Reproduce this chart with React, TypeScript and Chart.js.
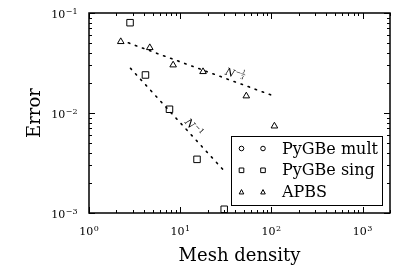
import React, { useEffect, useRef } from 'react';
import { Chart, registerables } from 'chart.js';

Chart.register(...registerables);

const FONT = '"DejaVu Serif", "Liberation Serif", serif';

// PyGBe mult (no points inside the visible range)
const meshMult: number[] = [];
const errorMult: number[] = [];
// PyGBe sing
const meshSing = [2.82, 4.16, 7.63, 15.3, 30.4];
const errorSing = [0.08, 0.024, 0.0109, 0.00344, 0.00109];
// APBS
const meshApbs = [2.23, 4.64, 8.37, 17.8, 53.1, 108];
const errorApbs = [0.0517, 0.045, 0.0302, 0.0259, 0.0148, 0.0074];
// reference slopes (end points)
const fitThirdX = [2.7, 100];
const fitThirdY = [0.0503, 0.0151];
const fitOneX = [2.85, 30];
const fitOneY = [0.028, 0.00267];
// annotation anchors
const noteThird = { x: 40, y: 0.0246 };
const noteOne = { x: 14.2, y: 0.0072 };

const xTicks = [1, 10, 100, 1000];
const xExps = ['0', '1', '2', '3'];
const yTicks = [0.001, 0.01, 0.1];
const yExps = ['−3', '−2', '−1'];
const legendLabels = ['PyGBe mult', 'PyGBe sing', 'APBS'];
const legendShapes = ['circle', 'rect', 'triangle'];

const xy = (xs: number[], ys: number[]) => xs.map((x, i) => ({ x, y: ys[i] }));

function drawMarker(ctx: CanvasRenderingContext2D, shape: string, x: number, y: number, r: number) {
  ctx.beginPath();
  if (shape === 'circle') {
    ctx.arc(x, y, r, 0, Math.PI * 2);
  } else if (shape === 'rect') {
    ctx.rect(x - r, y - r, 2 * r, 2 * r);
  } else {
    ctx.moveTo(x, y - r * 1.1);
    ctx.lineTo(x + r, y + r * 0.8);
    ctx.lineTo(x - r, y + r * 0.8);
    ctx.closePath();
  }
  ctx.stroke();
}

function drawPow(
  ctx: CanvasRenderingContext2D,
  exp: string,
  anchorX: number,
  align: 'center' | 'right',
  baseY: number,
  supY: number
) {
  ctx.font = `11px ${FONT}`;
  const wb = ctx.measureText('10').width;
  ctx.font = `8px ${FONT}`;
  const we = ctx.measureText(exp).width;
  const total = wb + 0.5 + we;
  const left = align === 'center' ? anchorX - total / 2 : anchorX - total;
  ctx.textAlign = 'left';
  ctx.textBaseline = 'alphabetic';
  ctx.font = `11px ${FONT}`;
  ctx.fillText('10', left, baseY);
  ctx.font = `8px ${FONT}`;
  ctx.fillText(exp, left + wb + 0.5, supY);
}

const framePlugin = {
  id: 'frame',
  afterDatasetsDraw(chart: any) {
    const { ctx, chartArea: a, scales } = chart;
    const xs = scales.x;
    const ys = scales.y;
    ctx.save();
    ctx.strokeStyle = '#000';
    ctx.fillStyle = '#000';
    ctx.lineWidth = 1;
    const major = 6;
    const minor = 3;
    // x ticks
    for (let d = 0; d <= 3; d++) {
      for (let m = 1; m <= 9; m++) {
        const v = m * Math.pow(10, d);
        if (v < xs.min || v > xs.max) continue;
        const px = Math.round(xs.getPixelForValue(v)) + 0.5;
        const len = m === 1 ? major : minor;
        ctx.beginPath();
        ctx.moveTo(px, a.bottom);
        ctx.lineTo(px, a.bottom - len);
        ctx.moveTo(px, a.top);
        ctx.lineTo(px, a.top + len);
        ctx.stroke();
      }
    }
    // y ticks
    for (let d = -3; d <= -1; d++) {
      for (let m = 1; m <= 9; m++) {
        const v = m * Math.pow(10, d);
        if (v < ys.min * 0.999 || v > ys.max * 1.001) continue;
        const py = Math.round(ys.getPixelForValue(v)) + 0.5;
        const len = m === 1 ? major : minor;
        ctx.beginPath();
        ctx.moveTo(a.left, py);
        ctx.lineTo(a.left + len, py);
        ctx.moveTo(a.right, py);
        ctx.lineTo(a.right - len, py);
        ctx.stroke();
      }
    }
    ctx.lineWidth = 1.5;
    ctx.strokeRect(a.left, a.top, a.right - a.left, a.bottom - a.top);

    // tick labels
    xTicks.forEach((v, i) => {
      const px = xs.getPixelForValue(v);
      drawPow(ctx, xExps[i], px, 'center', a.bottom + 22, a.bottom + 18);
    });
    yTicks.forEach((v, i) => {
      const py = ys.getPixelForValue(v);
      drawPow(ctx, yExps[i], a.left - 11.5, 'right', py + 5, py + 0.5);
    });

    // slope annotations
    const note = (pos: { x: number; y: number }, fx: number[], fy: number[], frac: boolean) => {
      const x0 = xs.getPixelForValue(fx[0]);
      const y0 = ys.getPixelForValue(fy[0]);
      const x1 = xs.getPixelForValue(fx[1]);
      const y1 = ys.getPixelForValue(fy[1]);
      const ang = Math.atan2(y1 - y0, x1 - x0);
      const px = xs.getPixelForValue(pos.x);
      const py = ys.getPixelForValue(pos.y);
      ctx.save();
      ctx.translate(px, py);
      ctx.rotate(ang);
      ctx.textBaseline = 'alphabetic';
      ctx.textAlign = 'left';
      ctx.font = `italic 10.5px ${FONT}`;
      const wN = ctx.measureText('N').width;
      ctx.font = `7px ${FONT}`;
      const wM = ctx.measureText('−').width;
      let wRest = 0;
      if (frac) {
        ctx.font = `5px ${FONT}`;
        wRest = ctx.measureText('3').width + 1;
      } else {
        ctx.font = `7px ${FONT}`;
        wRest = ctx.measureText('1').width;
      }
      const total = wN + 0.5 + wM + wRest;
      const left = -total / 2;
      ctx.font = `italic 10.5px ${FONT}`;
      ctx.fillText('N', left, 4);
      ctx.font = `7px ${FONT}`;
      ctx.fillText('−', left + wN + 0.5, -0.5);
      const fx0 = left + wN + 0.5 + wM;
      if (frac) {
        ctx.font = `5px ${FONT}`;
        ctx.fillText('1', fx0 + 0.5, -3.5);
        ctx.fillText('3', fx0 + 0.5, 2.5);
        ctx.lineWidth = 0.5;
        ctx.beginPath();
        ctx.moveTo(fx0, -2.5);
        ctx.lineTo(fx0 + wRest, -2.5);
        ctx.stroke();
      } else {
        ctx.fillText('1', fx0, -0.5);
      }
      ctx.restore();
    };
    note(noteThird, fitThirdX, fitThirdY, true);
    note(noteOne, fitOneX, fitOneY, false);
    ctx.restore();
  },
  afterDraw(chart: any) {
    const { ctx } = chart;
    ctx.save();
    const bx = 231, by = 136, bw = 151, bh = 69;
    ctx.fillStyle = '#fff';
    ctx.fillRect(bx, by, bw, bh);
    ctx.strokeStyle = '#000';
    ctx.lineWidth = 1;
    ctx.strokeRect(bx + 0.5, by + 0.5, bw, bh);
    ctx.font = `16px ${FONT}`;
    ctx.fillStyle = '#000';
    ctx.textBaseline = 'middle';
    ctx.textAlign = 'left';
    legendLabels.forEach((lab, i) => {
      const y = 148.5 + i * 21.8;
      drawMarker(ctx, legendShapes[i], 241.5, y, 2.3);
      drawMarker(ctx, legendShapes[i], 263, y, 2.3);
      ctx.fillText(lab, 282, y + 1);
    });
    ctx.restore();
  },
};

export default function App() {
  const ref = useRef<HTMLCanvasElement>(null);
  useEffect(() => {
    const canvas = ref.current;
    if (!canvas) return;
    const marker = {
      borderColor: '#000',
      backgroundColor: 'rgba(0,0,0,0)',
      borderWidth: 1,
      showLine: false,
    };
    const fit = {
      borderColor: '#000',
      backgroundColor: 'rgba(0,0,0,0)',
      borderWidth: 1.6,
      borderDash: [1.5, 6],
      borderCapStyle: 'round' as const,
      pointRadius: 0,
      showLine: true,
    };
    const chart = new Chart(canvas, {
      type: 'scatter',
      data: {
        datasets: [
          { label: legendLabels[0], data: xy(meshMult, errorMult), pointStyle: 'circle', pointRadius: 3.5, ...marker },
          { label: legendLabels[1], data: xy(meshSing, errorSing), pointStyle: 'rect', pointRadius: 4.6, ...marker },
          { label: legendLabels[2], data: xy(meshApbs, errorApbs), pointStyle: 'triangle', pointRadius: 3.8, ...marker },
          { label: 'N^-1/3', data: xy(fitThirdX, fitThirdY), ...fit },
          { label: 'N^-1', data: xy(fitOneX, fitOneY), ...fit },
        ],
      },
      options: {
        animation: false,
        responsive: false,
        layout: { padding: { top: 13, right: 17, left: 0, bottom: 0 } },
        plugins: { legend: { display: false }, tooltip: { enabled: false } },
        scales: {
          x: {
            type: 'logarithmic',
            min: 1,
            max: 2000,
            grid: { display: false, drawTicks: false },
            border: { display: false },
            afterBuildTicks: (s: any) => {
              s.ticks = xTicks.map((v) => ({ value: v }));
            },
            afterFit: (s: any) => {
              s.height = 58;
            },
            ticks: { display: false },
            title: {
              display: true,
              text: 'Mesh density',
              color: '#000',
              font: { family: FONT, size: 18 },
              padding: { top: 0, bottom: 4 },
            },
          },
          y: {
            type: 'logarithmic',
            min: 0.001,
            max: 0.1,
            grid: { display: false, drawTicks: false },
            border: { display: false },
            afterBuildTicks: (s: any) => {
              s.ticks = yTicks.map((v) => ({ value: v }));
            },
            afterFit: (s: any) => {
              s.width = 89;
            },
            ticks: { display: false },
            title: {
              display: true,
              text: 'Error',
              color: '#000',
              font: { family: FONT, size: 18 },
              padding: { top: 25, bottom: 0 },
            },
          },
        },
      },
      plugins: [framePlugin],
    } as any);
    return () => chart.destroy();
  }, []);
  return (
    <div style={{ position: 'fixed', left: 0, top: 0, width: 407, height: 271, background: '#fff' }}>
      <canvas ref={ref} width={407} height={271} style={{ display: 'block', width: 407, height: 271 }} />
    </div>
  );
}
